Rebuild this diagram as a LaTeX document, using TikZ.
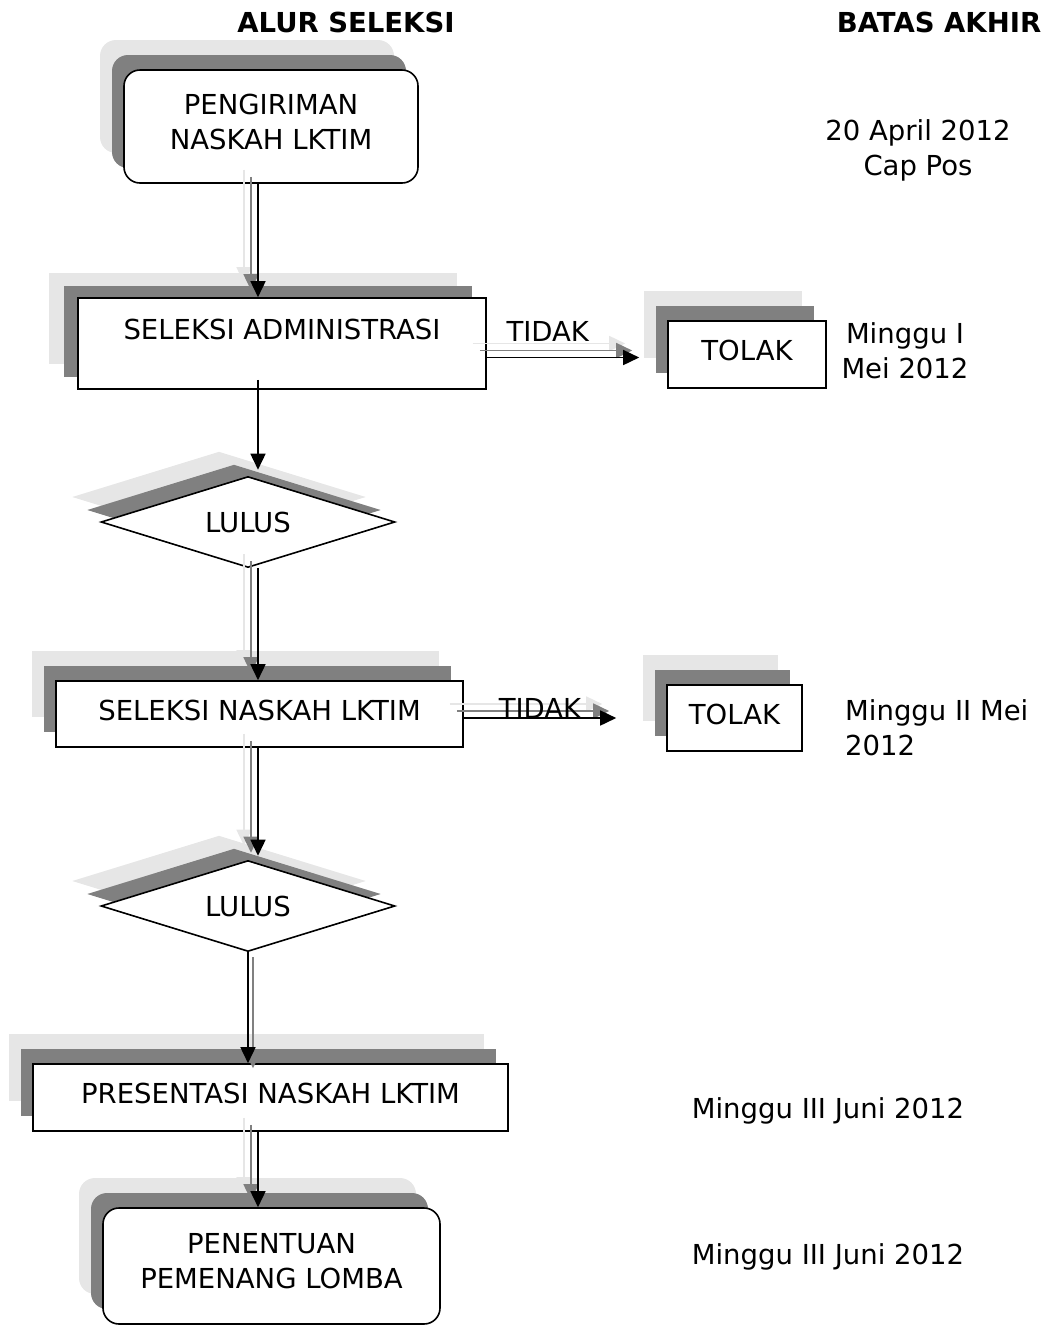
\documentclass[tikz,border=0pt]{standalone}
\usepackage{fontspec}
\setmainfont{DejaVu Sans}
\usetikzlibrary{shapes.geometric,arrows.meta,calc}
\definecolor{shlight}{HTML}{E6E6E6}
\definecolor{shdark}{HTML}{808080}
\newcommand{\shadeflow}[2]{%
  \foreach \dl/\col in {-14/shlight,-7/shdark}
    \draw[flow,color=\col] ($#1+(\dl,\dl)$) -- ($#2+(\dl,\dl)$);}

\begin{document}
\begin{tikzpicture}[x=1pt,y=-1pt,
  every node/.style={font=\fontsize{27.5}{35}\selectfont},
  proc/.style={draw,fill=white,line width=1.6pt,inner sep=0pt,text depth=8pt},
  shadeA/.style={preaction={fill=shlight,draw=none,transform canvas={xshift=-24pt,yshift=30pt}},
                 preaction={fill=shdark,draw=none,transform canvas={xshift=-12pt,yshift=15pt}}},
  shadeB/.style={preaction={fill=shlight,draw=none,transform canvas={xshift=-29pt,yshift=25pt}},
                 preaction={fill=shdark,draw=none,transform canvas={xshift=-14pt,yshift=12pt}}},
  decide/.style={diamond,draw,fill=white,line width=1.6pt,aspect=3,inner sep=0pt,
                 minimum width=294pt,minimum height=91pt,shadeB},
  flow/.style={line width=1.6pt,-{Triangle[length=16pt,width=15pt]}},
  note/.style={inner sep=0pt,align=center},
  head/.style={inner sep=0pt,font=\fontsize{27.5}{35}\selectfont\bfseries}]
  \useasboundingbox (0,0) rectangle (1050,1326);

  \node[head] (alur) at (346,22) {ALUR SELEKSI};
  \node[head] (batas) at (939,22) {BATAS AKHIR};

  \node[proc,shadeA,rounded corners=16pt,align=center,text depth=10pt,
        minimum width=294pt,minimum height=113pt] (kirim) at (271,126.5) {PENGIRIMAN\\NASKAH LKTIM};
  \node[proc,shadeB,minimum width=408pt,minimum height=91pt,text height=41pt,text depth=50pt]
        (admin) at (282,343.5) {SELEKSI ADMINISTRASI};
  \node[proc,shadeA,minimum width=158pt,minimum height=67pt] (tolakA) at (747,354.5) {TOLAK};
  \node[decide] (lulusA) at (248,522) {LULUS};
  \node[proc,shadeA,minimum width=407pt,minimum height=66pt] (naskah) at (259.5,714) {SELEKSI NASKAH LKTIM};
  \node[proc,shadeA,minimum width=135pt,minimum height=66pt] (tolakB) at (734.5,718) {TOLAK};
  \node[decide] (lulusB) at (248,906) {LULUS};
  \node[proc,shadeA,minimum width=475pt,minimum height=67pt] (presentasi) at (270.5,1097.5) {PRESENTASI NASKAH LKTIM};
  \node[proc,shadeA,rounded corners=16pt,align=center,text depth=10pt,
        minimum width=337pt,minimum height=116pt] (menang) at (271.5,1266) {PENENTUAN\\PEMENANG LOMBA};

  \node[note] (tglA) at (918,150) {20 April 2012\\Cap Pos};
  \node[note] (tglB) at (905,351) {Minggu I\\Mei 2012};
  \node[note,align=left,anchor=west] (tglC) at (845,728) {Minggu II Mei\\2012};
  \node[note] (tglD) at (828,1111) {Minggu III Juni 2012};
  \node[note] (tglE) at (828,1257) {Minggu III Juni 2012};

  \coordinate (sp) at (258,0);
  \coordinate (tidakA) at ($(admin.east |- tolakA.west)+(0,3)$);
  \coordinate (tolakAin) at ($(tolakA.west)+(-28,3)$);
  \coordinate (tidakB) at (naskah.east |- tolakB.west);
  \coordinate (tolakBin) at ($(tolakB.west)+(-50,0)$);

  \shadeflow{(kirim.south -| sp)}{(admin.north -| sp)}
  \path[flow] (kirim.south -| sp) edge (admin.north -| sp);
  \path[flow] ($(admin.south -| sp)+(0,-10)$) edge ($(lulusA.north -| sp)+(0,-6)$);
  \shadeflow{(lulusA.south -| sp)}{(naskah.north -| sp)}
  \path[flow] (lulusA.south -| sp) edge (naskah.north -| sp);
  \shadeflow{(naskah.south -| sp)}{(lulusB.north -| sp)}
  \path[flow] (naskah.south -| sp) edge ($(lulusB.north -| sp)+(0,-4)$);
  \draw[flow,shdark] ($(lulusB.south)+(5,5)$) -- ($(presentasi.north -| lulusB.south)+(5,5)$);
  \path[flow] (lulusB.south) edge (presentasi.north -| lulusB.south);
  \shadeflow{(presentasi.south -| sp)}{(menang.north -| sp)}
  \path[flow] (presentasi.south -| sp) edge (menang.north -| sp);

  \shadeflow{(tidakA)}{(tolakAin)}
  \path[flow] (tidakA) edge node[pos=.4,above=15pt,inner sep=0pt] {TIDAK} (tolakAin);
  \shadeflow{(tidakB)}{(tolakBin)}
  \path[flow] (tidakB) edge node[midway,anchor=base,inner sep=0pt] {TIDAK} (tolakBin);
\end{tikzpicture}
\end{document}
